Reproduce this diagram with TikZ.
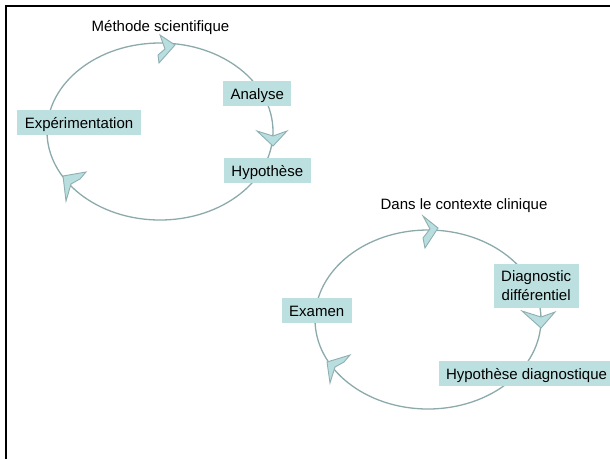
\documentclass[tikz,border=0pt]{standalone}
\usepackage{fontspec}
\setmainfont{Liberation Sans}
\definecolor{boxfill}{HTML}{BCE0E0}
\definecolor{ringline}{HTML}{8CAAAC}
\definecolor{chevfill}{HTML}{B9DEDF}
\definecolor{chevline}{HTML}{8FAFB1}
\tikzset{
  lbl/.style={font=\fontsize{15}{19}\selectfont, inner sep=0pt},
  boxlbl/.style={lbl, fill=boxfill, inner xsep=7.5pt, inner ysep=0pt, text height=18.3pt, text depth=6.5pt, anchor=base},
  ring/.style={draw=ringline, line width=1.3pt},
  chev/.style={fill=chevfill, draw=chevline, line width=0.9pt, line join=miter},
  frameline/.style={draw=black, line width=2pt}
}
\begin{document}
\begin{tikzpicture}[x=1pt,y=-1pt]
\useasboundingbox (0,0) rectangle (610,459);
\fill[white] (0,0) rectangle (610,459);
\draw[frameline] (6,459) -- (6,6) -- (610,6);

% first cycle
\draw[ring] (160,131.5) ellipse [x radius=113pt, y radius=88.5pt];
\fill[chev] (175,45) -- (160,35) -- (165,49) -- (158,55) -- (159,63) -- cycle;
\fill[chev] (273,146) -- (287,131) -- (273,136) -- (257,131) -- cycle;
\fill[chev] (63,176) -- (86,172) -- (80,179) -- (71,184) -- (66,201) -- cycle;

\node[lbl, anchor=base] (t1) at (160.5,31.7) {Méthode scientifique};
\node[boxlbl] (analyse) at (257.2,99.3) {Analyse};
\node[boxlbl] (exper) at (79,128.3) {Expérimentation};
\node[boxlbl] (hypo) at (267.3,176.5) {Hypothèse};

% second cycle
\draw[ring] (428,319.5) ellipse [x radius=113pt, y radius=89.5pt];
\fill[chev] (438,228) -- (423,216) -- (430,229) -- (423,238) -- (425,248) -- cycle;
\fill[chev] (541,328) -- (555,312) -- (541,317) -- (522,311) -- cycle;
\fill[chev] (327,362) -- (350,355) -- (344,362) -- (335,367) -- (330,383) -- cycle;

\node[lbl, anchor=base] (t2) at (464,209.5) {Dans le contexte clinique};
\node[lbl, fill=boxfill, inner xsep=7.5pt, align=center, minimum height=43.7pt] (diff) at (536.2,285.8) {Diagnostic\\différentiel};
\node[boxlbl] (examen) at (316.7,316.7) {Examen};
\node[boxlbl] (hypdiag) at (526.5,379.5) {Hypothèse diagnostique};
\end{tikzpicture}
\end{document}
